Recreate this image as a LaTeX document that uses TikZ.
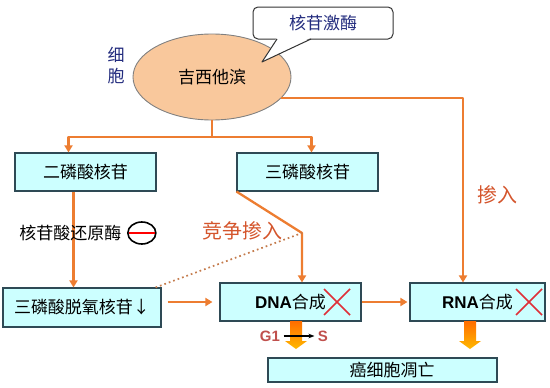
\documentclass[tikz,border=0pt]{standalone}
\usepackage{fontspec}
\setmainfont{Liberation Sans}
\newfontfamily\cjk{Noto Sans CJK SC}
\usetikzlibrary{arrows.meta, positioning, shapes.geometric}
\definecolor{lineorange}{HTML}{ED7D31}
\definecolor{boxfill}{HTML}{CCFFFF}
\definecolor{boxline}{HTML}{2E4A55}
\definecolor{cellfill}{HTML}{F9C89C}
\definecolor{navytext}{HTML}{232C7E}
\definecolor{labelred}{HTML}{D4552C}
\definecolor{phasered}{HTML}{C0504D}
\definecolor{crossred}{HTML}{DE3038}
\definecolor{dotbrown}{HTML}{C47B4C}
\colorlet{fattop}{orange!85!red}
\colorlet{fatbottom}{orange!55!yellow}
\newcommand{\lat}[1]{{\normalfont\bfseries #1}}
\newcommand{\fatarrow}[2]{%
  \shade[top color=fattop, bottom color=fatbottom] (#1-6,#2) -- (#1+6,#2) -- (#1+6,#2+20)
    -- (#1+11,#2+20) -- (#1,#2+28) -- (#1-11,#2+20) -- (#1-6,#2+20) -- cycle;
}
\newcommand{\redcross}[2]{%
  \draw[crossred, line width=1.6pt] (#1-13,#2-13) -- (#1+13,#2+13);
  \draw[crossred, line width=1.6pt] (#1-13,#2+13) -- (#1+13,#2-13);
}
\tikzset{
  box/.style={draw=boxline, fill=boxfill, line width=1.1pt, minimum height=38pt, inner sep=0pt,
    font=\cjk\fontsize{17}{20}\selectfont},
  flow/.style={draw=lineorange, line width=2.3pt, line join=round, -{Triangle[length=7pt, width=8pt]}},
  flowline/.style={draw=lineorange, line width=2.3pt},
  tag/.style={text=labelred, font=\cjk\fontsize{20}{24}\selectfont},
  phase/.style={text=phasered, font=\bfseries\fontsize{15}{18}\selectfont},
}
\begin{document}
\begin{tikzpicture}[x=1pt, y=-1pt]
  \useasboundingbox (0,0) rectangle (550,388);

  % cell with drug
  \node[ellipse, draw=gray, fill=cellfill, line width=0.9pt, minimum width=158pt, minimum height=86pt,
    font=\cjk\fontsize{17}{20}\selectfont] (cell) at (212,77) {吉西他滨};
  \node[text=navytext, align=center, font=\cjk\fontsize{17}{21}\selectfont] (cellword) at (116,66) {细\\胞};

  % boxes
  \node[box, minimum width=141pt] (dip) at (85.5,172) {二磷酸核苷};
  \node[box, minimum width=141pt] (tri) at (307.5,172) {三磷酸核苷};
  \node[box, minimum width=158pt, minimum height=39pt] (dntp) at (82,307.5) {三磷酸脱氧核苷↓\hspace{17pt}};
  \node[box, minimum width=141pt] (dna) at (290.5,302) {\lat{DNA}合成\hspace{21pt}};
  \node[box, minimum width=135pt] (rna) at (477.5,302) {\lat{RNA}合成};
  \node[box, minimum width=229pt, minimum height=24pt] (apop) at (382.5,370) {\hspace{19pt}癌细胞凋亡};

  % from the cell
  \coordinate (split) at (212,137);
  \draw[flowline] (cell.south) -- (split);
  \draw[flow] (split) -| ([xshift=-17pt]dip.north);
  \draw[flow] (split) -| ([xshift=4pt]tri.north);
  \draw[flow] (cell.-17) -| ([xshift=-14.5pt]rna.north);
  \node[tag] (mix) at (497,195) {掺入};

  % reductase step
  \draw[flow] ([xshift=-12pt]dip.south) -- ([xshift=-12pt]dip.south |- dntp.north);
  \node[font=\cjk\fontsize{17}{20}\selectfont] (reductase) at (70.5,233) {核苷酸还原酶};
  \node[ellipse, draw, line width=1.6pt, minimum width=28pt, minimum height=22pt, inner sep=0pt,
    right=2pt of reductase] (block) {};
  \draw[red, line width=2.6pt, shorten <=1.5pt, shorten >=1.5pt] (block.west) -- (block.east);

  % competing incorporation
  \coordinate (bend) at (302,233);
  \draw[flow] (tri.south west) -- (bend) -- (bend |- dna.north);
  \draw[dotbrown, line width=1.7pt, dash pattern=on 1.7pt off 3pt] ([xshift=-6pt]dntp.north east) -- (bend);
  \node[tag] (compete) at (242.5,231) {竞争掺入};
  \draw[flow] ([xshift=6pt]dntp.east |- dna.west) -- ([xshift=-7pt]dna.west);
  \draw[flow] (dna.east) -- ([xshift=-2pt]rna.west);

  % blocked synthesis
  \redcross{337}{302}
  \redcross{529}{302}
  \fatarrow{296}{321}
  \fatarrow{470}{321}
  \node[phase] (gone) at (270,336) {G1};
  \node[phase] (sphase) at (323,336) {S};
  \draw[line width=1.3pt, -{Stealth[length=6pt]}] (gone) -- (sphase);

  % kinase callout
  \node[rounded corners=5pt, draw=black!80, fill=white, line width=1pt, minimum width=140pt,
    minimum height=32pt, text=navytext, font=\cjk\fontsize{17}{20}\selectfont] (kinase) at (323,23) {核苷激酶};
  \fill[white] (277,37.5) -- (262,62) -- (311,37.5) -- cycle;
  \draw[black!80, line width=1pt, line join=round] (277,39) -- (262,62) -- (311,39);
\end{tikzpicture}
\end{document}
